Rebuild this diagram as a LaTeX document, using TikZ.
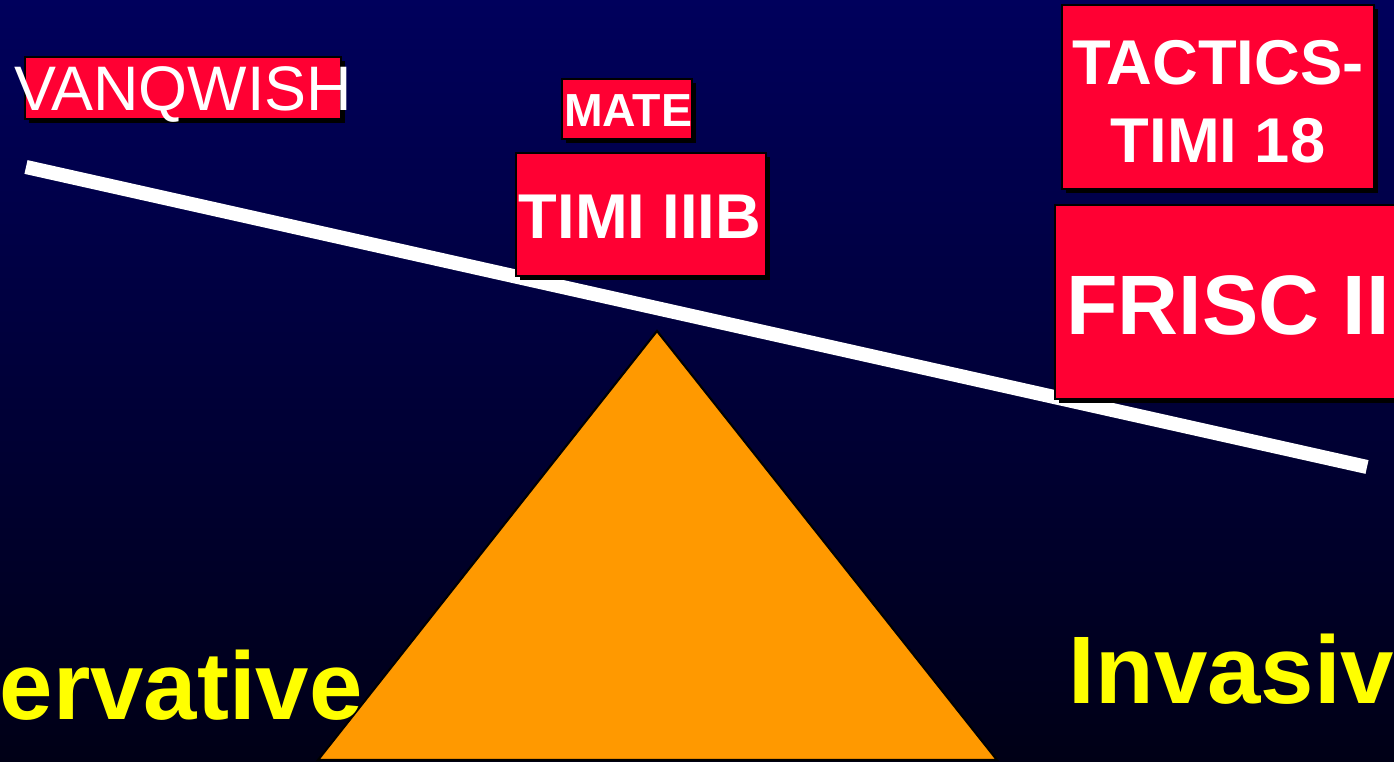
\documentclass[tikz,border=0pt]{standalone}
\usepackage{fontspec}
\setmainfont{Liberation Sans}
\usetikzlibrary{calc, positioning}
\usetikzlibrary{shadows}

\definecolor{navytop}{RGB}{0,0,92}
\definecolor{navybot}{RGB}{0,0,22}
\definecolor{trialred}{RGB}{255,0,51}
\definecolor{fulcrum}{RGB}{255,153,0}
\definecolor{sideyellow}{RGB}{255,255,0}

\begin{document}
\begin{tikzpicture}[
  trialbox/.style={fill=trialred, draw=black, line width=0.4pt, inner sep=0pt,
    drop shadow={shadow xshift=0.04cm, shadow yshift=-0.04cm, fill=black, opacity=1}},
  trialtext/.style={text=white, font=\bfseries, align=center, inner sep=0pt},
  sidetext/.style={text=sideyellow, font=\bfseries\fontsize{27.3pt}{30pt}\selectfont, inner sep=0pt}
]
\def\picw{13.94}
\def\pich{7.62}

\clip (0,0) rectangle (\picw,\pich);
\shade[top color=navytop, bottom color=navybot] (0,0) rectangle (\picw,\pich);

% fulcrum
\coordinate (tl) at (3.18,0.02);
\coordinate (tt) at (6.57,4.31);
\coordinate (tr) at (9.97,0.02);
\draw[fill=fulcrum, draw=black, line width=0.6pt] (tl) -- (tt) -- (tr) -- cycle;

% beam
\coordinate (bl) at (0.26,5.95);
\coordinate (br) at (13.67,2.95);
\draw[white, line width=4pt] (bl) -- (br);

% trials
\node[trialbox, minimum width=3.16cm, minimum height=0.62cm] (vqbox) at (1.83,6.74) {};
\node[text=white, inner sep=0pt, font=\fontsize{17.9pt}{20pt}\selectfont] (vanqwish) at (1.83,6.68) {VANQWISH};

\node[trialbox, minimum width=1.30cm, minimum height=0.60cm] (matebox) at (6.27,6.53) {};
\node[trialtext, font=\bfseries\fontsize{13.2pt}{15pt}\selectfont] (mate) at (6.28,6.51) {MATE};

\node[trialbox, minimum width=2.50cm, minimum height=1.23cm] (timibox) at (6.41,5.475) {};
\node[trialtext, font=\bfseries\fontsize{18pt}{20pt}\selectfont] (timi) at (6.40,5.45) {TIMI IIIB};

\node[trialbox, minimum width=3.12cm, minimum height=1.84cm] (tacbox) at (12.18,6.65) {};
\node[trialtext, font=\bfseries\fontsize{18pt}{22.2pt}\selectfont] (tactics) at (12.18,6.60) {TACTICS-\\TIMI 18};

\node[trialbox, minimum width=3.45cm, minimum height=1.94cm] (friscbox) at (12.275,4.60) {};
\node[trialtext, font=\bfseries\fontsize{24pt}{26pt}\selectfont] (frisc) at (12.28,4.57) {FRISC II};

% sides of the balance
\node[sidetext, anchor=base west] (cons) at (-0.01,0.42) {ervative};
\node[sidetext, anchor=base west] (inv) at (10.68,0.59) {Invasiv};
\end{tikzpicture}
\end{document}
